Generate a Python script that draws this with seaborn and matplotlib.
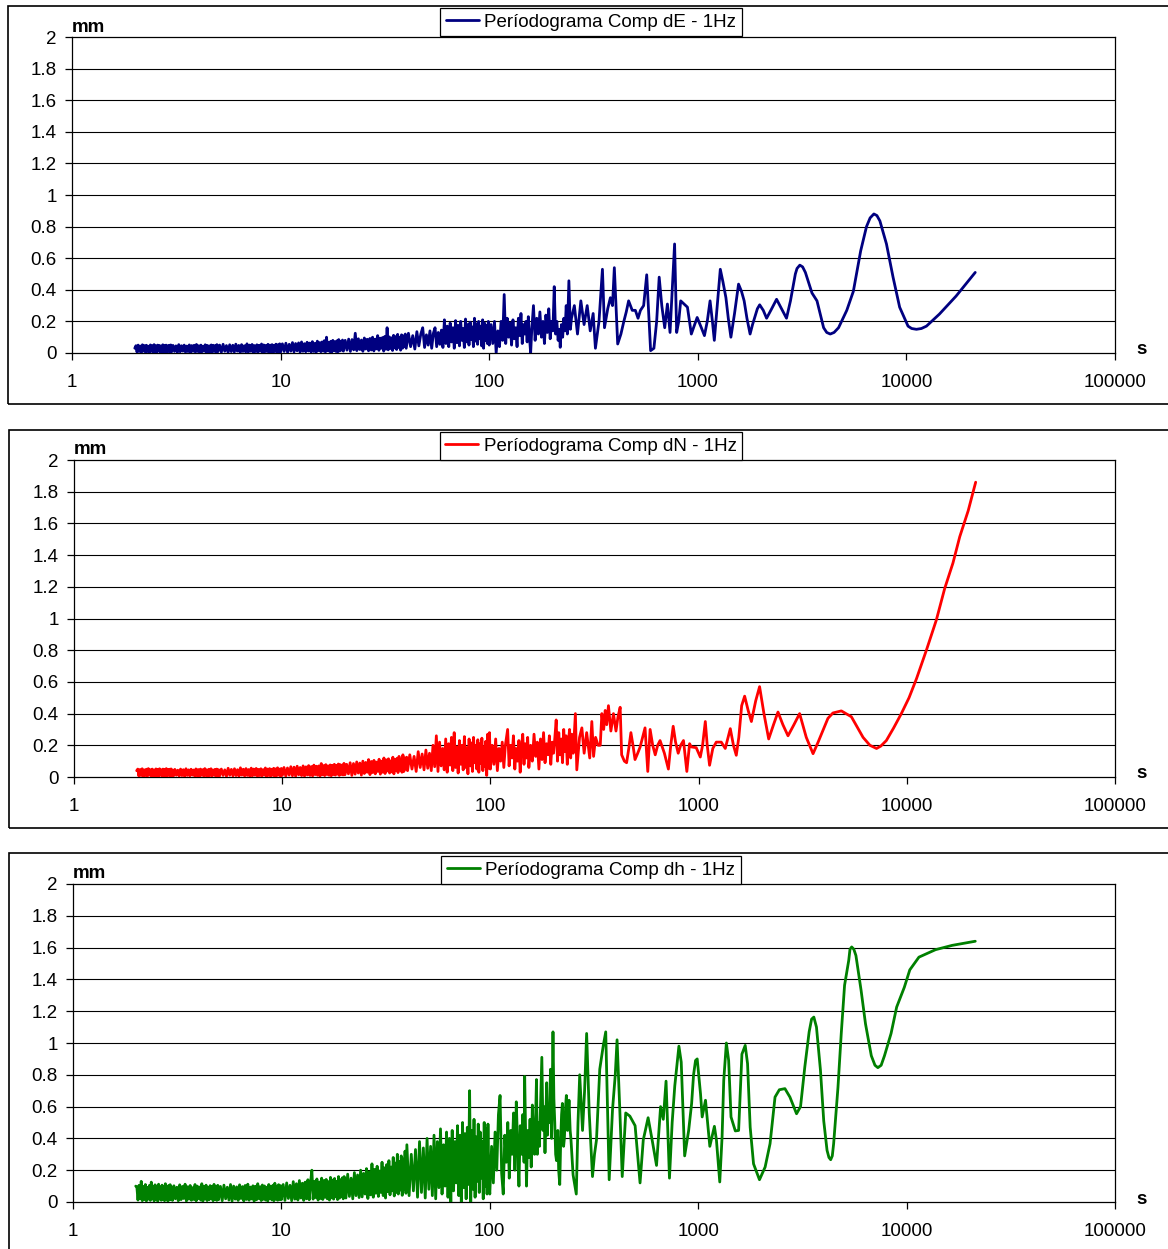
import matplotlib
matplotlib.use("Agg")
import matplotlib.pyplot as plt
from matplotlib.patches import Rectangle
from matplotlib.lines import Line2D
from matplotlib.ticker import NullLocator
import pandas as pd
import seaborn as sns

# ---------------- data ----------------
# periods (s) of the dense short-period part, shared by the three components
NOISE_PERIODS = [
    2.0, 2.025, 2.05, 2.075, 2.1, 2.125, 2.15, 2.175, 2.2, 2.225, 2.25, 2.275, 2.3, 2.325, 2.35, 2.375, 2.4, 2.425, 2.45, 2.475,
    2.5, 2.525, 2.55, 2.575, 2.6, 2.625, 2.65, 2.675, 2.7, 2.725, 2.75, 2.775, 2.8, 2.825, 2.85, 2.875, 2.9, 2.925, 2.95, 2.975,
    3.0, 3.05, 3.1, 3.15, 3.2, 3.25, 3.3, 3.35, 3.4, 3.45, 3.5, 3.55, 3.6, 3.65, 3.7, 3.75, 3.8, 3.85, 3.9, 3.95,
    4.0, 4.05, 4.1, 4.15, 4.2, 4.25, 4.3, 4.35, 4.4, 4.45, 4.5, 4.55, 4.6, 4.65, 4.7, 4.75, 4.8, 4.85, 4.9, 4.95,
    5.0, 5.1, 5.2, 5.3, 5.4, 5.5, 5.6, 5.7, 5.8, 5.9, 6.0, 6.1, 6.2, 6.3, 6.4, 6.5, 6.6, 6.7, 6.8, 6.9,
    7.0, 7.1, 7.2, 7.3, 7.4, 7.5, 7.6, 7.7, 7.8, 7.9, 8.0, 8.1, 8.2, 8.3, 8.4, 8.5, 8.6, 8.7, 8.8, 8.9,
    9.0, 9.1, 9.2, 9.3, 9.4, 9.5, 9.6, 9.7, 9.8, 9.9,
    10.0, 10.2, 10.4, 10.6, 10.8, 11.0, 11.2, 11.4, 11.6, 11.8, 12.0, 12.2, 12.4, 12.6, 12.8, 13.0, 13.2, 13.4, 13.6, 13.8,
    14.0, 14.2, 14.4, 14.6, 14.8, 15.0, 15.2, 15.4, 15.6, 15.8, 16.0, 16.2, 16.4, 16.6, 16.8, 17.0, 17.2, 17.4, 17.6, 17.8,
    18.0, 18.2, 18.4, 18.6, 18.8, 19.0, 19.2, 19.4, 19.6, 19.8,
    20.0, 20.4, 20.8, 21.2, 21.6, 22.0, 22.4, 22.8, 23.2, 23.6, 24.0, 24.4, 24.8, 25.2, 25.6, 26.0, 26.4, 26.8, 27.2, 27.6,
    28.0, 28.4, 28.8, 29.2, 29.6, 30.0, 30.4, 30.8, 31.2, 31.6, 32.0, 32.4, 32.8, 33.2, 33.6, 34.0, 34.4, 34.8, 35.2, 35.6,
    36.0, 36.4, 36.8, 37.2, 37.6, 38.0, 38.4, 38.8, 39.2, 39.6,
    40, 41, 42, 43, 44, 45, 46, 47, 48, 49, 50, 51, 52, 53, 54, 55, 56, 57, 58, 59,
    60, 61, 62, 63, 64, 65, 66, 67, 68, 69, 70, 71, 72, 73, 74, 75, 76, 77, 78, 79,
    80, 81, 82, 83, 84, 85, 86, 87, 88, 89, 90, 91, 92, 93, 94, 95, 96, 97, 98, 99,
]

DE_NOISE = [
    0.030, 0.046, 0.006, 0.050, 0.010, 0.044, 0.004, 0.052, 0.012, 0.047,
    0.005, 0.049, 0.009, 0.043, 0.003, 0.051, 0.011, 0.046, 0.006, 0.053,
    0.008, 0.045, 0.004, 0.050, 0.013, 0.048, 0.005, 0.044, 0.010, 0.052,
    0.003, 0.047, 0.009, 0.050, 0.006, 0.045, 0.012, 0.049, 0.004, 0.051,
    0.007, 0.048, 0.010, 0.045, 0.004, 0.053, 0.008, 0.046, 0.012, 0.050,
    0.005, 0.044, 0.009, 0.051, 0.003, 0.047, 0.011, 0.049, 0.006, 0.054,
    0.010, 0.046, 0.004, 0.050, 0.008, 0.043, 0.012, 0.052, 0.005, 0.048,
    0.009, 0.045, 0.003, 0.051, 0.007, 0.049, 0.011, 0.046, 0.006, 0.053,
    0.008, 0.050, 0.005, 0.055, 0.011, 0.047, 0.004, 0.052, 0.009, 0.049,
    0.006, 0.056, 0.012, 0.048, 0.003, 0.053, 0.010, 0.046, 0.007, 0.058,
    0.005, 0.050, 0.011, 0.054, 0.004, 0.047, 0.009, 0.052, 0.006, 0.049,
    0.012, 0.057, 0.003, 0.051, 0.008, 0.048, 0.010, 0.055, 0.005, 0.050,
    0.007, 0.053, 0.004, 0.049, 0.011, 0.056, 0.006, 0.052, 0.009, 0.058,
    0.006, 0.058, 0.010, 0.062, 0.004, 0.055, 0.012, 0.066, 0.007, 0.060,
    0.014, 0.064, 0.005, 0.070, 0.011, 0.059, 0.008, 0.068, 0.013, 0.063,
    0.006, 0.072, 0.010, 0.061, 0.004, 0.075, 0.015, 0.066, 0.008, 0.070,
    0.012, 0.078, 0.006, 0.100, 0.014, 0.068, 0.009, 0.074, 0.005, 0.080,
    0.016, 0.071, 0.010, 0.077, 0.007, 0.085, 0.013, 0.073, 0.018, 0.082,
    0.012, 0.080, 0.018, 0.088, 0.010, 0.085, 0.020, 0.125, 0.015, 0.090,
    0.022, 0.082, 0.011, 0.095, 0.025, 0.087, 0.014, 0.092, 0.019, 0.100,
    0.013, 0.088, 0.026, 0.110, 0.017, 0.094, 0.030, 0.098, 0.012, 0.105,
    0.024, 0.160, 0.020, 0.102, 0.028, 0.096, 0.016, 0.112, 0.032, 0.104,
    0.022, 0.118, 0.035, 0.100, 0.018, 0.115, 0.030, 0.108, 0.040, 0.120,
    0.030, 0.125, 0.040, 0.110, 0.025, 0.135, 0.045, 0.120, 0.160, 0.035,
    0.115, 0.050, 0.140, 0.030, 0.125, 0.160, 0.040, 0.130, 0.055, 0.145,
    0.035, 0.210, 0.060, 0.170, 0.040, 0.190, 0.070, 0.160, 0.030, 0.205,
    0.065, 0.175, 0.045, 0.200, 0.080, 0.155, 0.035, 0.215, 0.070, 0.180,
    0.050, 0.195, 0.085, 0.165, 0.040, 0.220, 0.075, 0.185, 0.055, 0.200,
    0.090, 0.170, 0.045, 0.210, 0.030, 0.190, 0.080, 0.175, 0.060, 0.200,
]

DN_NOISE = [
    0.040, 0.050, 0.006, 0.047, 0.010, 0.052, 0.004, 0.045, 0.009, 0.049,
    0.005, 0.053, 0.012, 0.046, 0.006, 0.050, 0.008, 0.044, 0.004, 0.051,
    0.010, 0.048, 0.005, 0.052, 0.011, 0.045, 0.007, 0.050, 0.003, 0.047,
    0.009, 0.053, 0.006, 0.046, 0.012, 0.049, 0.004, 0.051, 0.008, 0.044,
    0.005, 0.048, 0.011, 0.043, 0.006, 0.050, 0.009, 0.046, 0.004, 0.052,
    0.010, 0.045, 0.007, 0.049, 0.012, 0.044, 0.005, 0.051, 0.008, 0.047,
    0.003, 0.050, 0.011, 0.046, 0.006, 0.053, 0.009, 0.045, 0.004, 0.049,
    0.010, 0.052, 0.007, 0.044, 0.012, 0.048, 0.005, 0.050, 0.008, 0.046,
    0.006, 0.050, 0.010, 0.045, 0.004, 0.055, 0.011, 0.048, 0.007, 0.052,
    0.009, 0.046, 0.005, 0.058, 0.012, 0.049, 0.006, 0.053, 0.010, 0.047,
    0.004, 0.056, 0.008, 0.050, 0.011, 0.054, 0.005, 0.048, 0.009, 0.052,
    0.007, 0.046, 0.012, 0.057, 0.004, 0.050, 0.010, 0.053, 0.006, 0.049,
    0.011, 0.055, 0.005, 0.051, 0.008, 0.058, 0.012, 0.050, 0.006, 0.054,
    0.010, 0.060, 0.006, 0.057, 0.012, 0.065, 0.008, 0.062, 0.005, 0.068,
    0.014, 0.060, 0.009, 0.070, 0.006, 0.064, 0.013, 0.072, 0.010, 0.066,
    0.007, 0.075, 0.015, 0.068, 0.011, 0.070, 0.006, 0.085, 0.014, 0.072,
    0.009, 0.078, 0.016, 0.070, 0.011, 0.076, 0.008, 0.074, 0.015, 0.080,
    0.012, 0.073, 0.018, 0.082, 0.010, 0.078, 0.016, 0.075, 0.013, 0.086,
    0.014, 0.080, 0.020, 0.090, 0.010, 0.085, 0.018, 0.095, 0.025, 0.088,
    0.012, 0.100, 0.022, 0.092, 0.030, 0.110, 0.015, 0.098, 0.028, 0.105,
    0.020, 0.094, 0.035, 0.112, 0.018, 0.100, 0.030, 0.120, 0.022, 0.108,
    0.038, 0.115, 0.025, 0.102, 0.032, 0.125, 0.020, 0.110, 0.040, 0.118,
    0.028, 0.130, 0.045, 0.112, 0.030, 0.140, 0.035, 0.120, 0.050, 0.125,
    0.040, 0.140, 0.050, 0.130, 0.035, 0.160, 0.060, 0.145, 0.045, 0.170,
    0.055, 0.150, 0.040, 0.200, 0.065, 0.260, 0.035, 0.220, 0.070, 0.180,
    0.045, 0.240, 0.030, 0.210, 0.075, 0.250, 0.040, 0.280, 0.060, 0.190,
    0.025, 0.230, 0.080, 0.200, 0.045, 0.255, 0.060, 0.185, 0.020, 0.240,
    0.070, 0.215, 0.035, 0.250, 0.090, 0.200, 0.050, 0.235, 0.030, 0.210,
    0.085, 0.245, 0.040, 0.190, 0.065, 0.225, 0.010, 0.270, 0.055, 0.280,
]

DH_NOISE = [
    0.100, 0.095, 0.012, 0.105, 0.020, 0.130, 0.008, 0.098, 0.015, 0.110,
    0.006, 0.092, 0.018, 0.104, 0.010, 0.125, 0.022, 0.096, 0.007, 0.108,
    0.014, 0.100, 0.005, 0.112, 0.019, 0.094, 0.011, 0.106, 0.016, 0.099,
    0.008, 0.115, 0.021, 0.097, 0.006, 0.103, 0.013, 0.109, 0.017, 0.095,
    0.010, 0.102, 0.020, 0.093, 0.008, 0.108, 0.015, 0.098, 0.022, 0.112,
    0.006, 0.096, 0.018, 0.104, 0.011, 0.090, 0.016, 0.110, 0.007, 0.100,
    0.021, 0.094, 0.012, 0.115, 0.005, 0.099, 0.019, 0.106, 0.009, 0.092,
    0.014, 0.103, 0.023, 0.097, 0.008, 0.111, 0.017, 0.095, 0.010, 0.105,
    0.015, 0.098, 0.008, 0.106, 0.020, 0.093, 0.012, 0.110, 0.006, 0.100,
    0.018, 0.095, 0.010, 0.108, 0.022, 0.097, 0.007, 0.104, 0.016, 0.112,
    0.011, 0.094, 0.019, 0.102, 0.005, 0.099, 0.014, 0.115, 0.021, 0.096,
    0.009, 0.107, 0.017, 0.101, 0.012, 0.093, 0.006, 0.110, 0.020, 0.098,
    0.013, 0.105, 0.008, 0.118, 0.018, 0.100, 0.011, 0.109, 0.015, 0.103,
    0.015, 0.110, 0.010, 0.120, 0.022, 0.105, 0.008, 0.128, 0.018, 0.115,
    0.012, 0.135, 0.025, 0.118, 0.010, 0.125, 0.020, 0.140, 0.014, 0.122,
    0.200, 0.018, 0.130, 0.028, 0.145, 0.012, 0.126, 0.022, 0.150, 0.016,
    0.135, 0.030, 0.142, 0.020, 0.128, 0.012, 0.155, 0.026, 0.138, 0.018,
    0.148, 0.032, 0.130, 0.015, 0.160, 0.024, 0.140, 0.035, 0.152, 0.020,
    0.160, 0.025, 0.175, 0.035, 0.150, 0.020, 0.185, 0.040, 0.170, 0.028,
    0.200, 0.032, 0.180, 0.050, 0.210, 0.022, 0.190, 0.045, 0.240, 0.030,
    0.205, 0.055, 0.225, 0.035, 0.195, 0.060, 0.250, 0.040, 0.215, 0.025,
    0.235, 0.065, 0.260, 0.045, 0.220, 0.070, 0.280, 0.038, 0.245, 0.060,
    0.300, 0.050, 0.255, 0.075, 0.290, 0.042, 0.270, 0.080, 0.320, 0.055,
    0.360, 0.040, 0.300, 0.070, 0.330, 0.030, 0.380, 0.060, 0.340, 0.025,
    0.400, 0.080, 0.350, 0.040, 0.420, 0.020, 0.380, 0.090, 0.460, 0.050,
    0.360, 0.100, 0.440, 0.030, 0.400, 0.000, 0.450, 0.070, 0.380, 0.120,
    0.480, 0.040, 0.420, 0.000, 0.500, 0.090, 0.430, 0.020, 0.470, 0.110,
    0.700, 0.000, 0.450, 0.080, 0.520, 0.030, 0.410, 0.130, 0.490, 0.060,
    0.440, 0.150, 0.380, 0.020, 0.500, 0.100, 0.460, 0.050, 0.490, 0.120,
]

# (period s, amplitude mm) for the longer periods
DE_TAIL = [
    (100, 0.05), (102, 0.18), (104, 0.06), (106, 0.2), (108, 0.0), (110, 0.14), (112, 0.04), (114, 0.2),
    (116, 0.08), (118, 0.37), (120, 0.06), (122, 0.22), (124, 0.1), (126, 0.19), (128, 0.05), (130, 0.21),
    (132, 0.09), (134, 0.16), (136, 0.04), (138, 0.22), (140, 0.11), (142, 0.25), (144, 0.06), (146, 0.18),
    (148, 0.12), (150, 0.2), (152, 0.07), (154, 0.23), (156, 0.1), (158, 0.0), (160, 0.15), (163, 0.30),
    (166, 0.08), (169, 0.22), (172, 0.12), (175, 0.26), (178, 0.1), (181, 0.2), (184, 0.06), (187, 0.24),
    (190, 0.13), (193, 0.28), (196, 0.09), (199, 0.2), (202, 0.14), (205, 0.42), (208, 0.12), (211, 0.2),
    (214, 0.08), (217, 0.15), (219, 0.036), (222, 0.18), (225, 0.1), (228, 0.22), (231, 0.14), (234, 0.3),
    (237, 0.12), (241, 0.457), (245, 0.15), (248, 0.22),
    (256, 0.3), (265, 0.12),
    (275, 0.33), (285, 0.18), (295, 0.3), (305, 0.14), (315, 0.25), (323, 0.03), (336, 0.2), (349, 0.53),
    (357, 0.16), (370, 0.28), (381, 0.35), (390, 0.3), (398, 0.54), (413, 0.057), (428, 0.12), (442, 0.2),
    (454, 0.26), (466, 0.33), (485, 0.27), (502, 0.27), (517, 0.22), (531, 0.27), (550, 0.3), (569, 0.495),
    (594, 0.015), (616, 0.03), (635, 0.2), (653, 0.48), (672, 0.3), (694, 0.16), (715, 0.31), (736, 0.13),
    (774, 0.69), (792, 0.13), (810, 0.2), (828, 0.33), (860, 0.31), (892, 0.29), (931, 0.12), (960, 0.17),
    (993, 0.225), (1040, 0.16), (1076, 0.11), (1110, 0.2), (1145, 0.33), (1175, 0.2), (1200, 0.08), (1240, 0.3),
    (1282, 0.53), (1320, 0.45), (1364, 0.35), (1400, 0.22), (1441, 0.10), (1500, 0.25), (1568, 0.436), (1620, 0.39),
    (1668, 0.33), (1720, 0.22), (1781, 0.12), (1830, 0.18), (1875, 0.225), (1930, 0.28), (1980, 0.305), (2060, 0.27),
    (2137, 0.22), (2260, 0.28), (2386, 0.34), (2520, 0.28), (2662, 0.22), (2781, 0.33), (2935, 0.50), (2990, 0.535),
    (3084, 0.556), (3180, 0.545), (3279, 0.51), (3526, 0.38), (3727, 0.33), (4010, 0.16), (4150, 0.13), (4315, 0.12),
    (4500, 0.13), (4729, 0.16), (5178, 0.27), (5567, 0.39), (6036, 0.646), (6438, 0.80), (6700, 0.855), (6984, 0.88),
    (7220, 0.87), (7463, 0.836), (8025, 0.69), (8630, 0.48), (9281, 0.29), (10182, 0.17), (10600, 0.155), (11170, 0.15),
    (11800, 0.155), (12480, 0.17), (14390, 0.246), (17300, 0.36), (21380, 0.51),
]

DN_TAIL = [
    (100, 0.05), (102, 0.2), (104, 0.08), (106, 0.24), (108, 0.04), (110, 0.18), (112, 0.1), (114, 0.22),
    (116, 0.06), (118, 0.2), (121, 0.30), (123, 0.07), (125, 0.2), (127, 0.12), (129, 0.26), (131, 0.05),
    (133, 0.18), (135, 0.1), (137, 0.23), (139, 0.03), (141, 0.19), (143, 0.27), (145, 0.08), (147, 0.21),
    (149, 0.12), (151, 0.25), (153, 0.06), (156, 0.2), (159, 0.1), (162, 0.27), (165, 0.13), (168, 0.22),
    (171, 0.05), (174, 0.24), (177, 0.11), (180, 0.28), (183, 0.09), (186, 0.21), (189, 0.14), (192, 0.26),
    (195, 0.08), (198, 0.22), (201, 0.15), (204, 0.25), (207, 0.36), (210, 0.1), (213, 0.28), (216, 0.14),
    (219, 0.24), (222, 0.09), (225, 0.3), (228, 0.16), (231, 0.26), (234, 0.08), (237, 0.22), (240, 0.3),
    (243, 0.12), (246, 0.27), (250, 0.15),
    (256, 0.40), (260, 0.045), (268, 0.25), (275, 0.31), (282, 0.15), (290, 0.28), (300, 0.12), (307, 0.35),
    (313, 0.13), (320, 0.25), (329, 0.2), (337, 0.2), (343, 0.40), (350, 0.3), (356, 0.42), (362, 0.33),
    (369, 0.45), (379, 0.29), (390, 0.40), (401, 0.29), (410, 0.38), (420, 0.44), (427, 0.14), (440, 0.1),
    (451, 0.09), (462, 0.18), (473, 0.28), (484, 0.2), (495, 0.11), (510, 0.15), (524, 0.19), (538, 0.25),
    (553, 0.31), (570, 0.035), (585, 0.30), (602, 0.2), (619, 0.14), (636, 0.2), (653, 0.23), (685, 0.15),
    (716, 0.05), (735, 0.2), (755, 0.32), (775, 0.22), (798, 0.15), (820, 0.2), (846, 0.23), (878, 0.035),
    (905, 0.21), (922, 0.19), (974, 0.185), (1019, 0.126), (1045, 0.2), (1077, 0.35), (1100, 0.2), (1129, 0.074),
    (1170, 0.18), (1216, 0.22), (1285, 0.22), (1343, 0.18), (1420, 0.305), (1470, 0.2), (1517, 0.137), (1560, 0.25),
    (1610, 0.45), (1664, 0.51), (1730, 0.42), (1793, 0.35), (1880, 0.48), (1963, 0.57), (2060, 0.4), (2171, 0.24),
    (2290, 0.33), (2406, 0.41), (2540, 0.33), (2688, 0.26), (2870, 0.33), (3056, 0.40), (3290, 0.25), (3546, 0.147),
    (3750, 0.22), (3959, 0.295), (4180, 0.37), (4418, 0.404), (4849, 0.417), (5418, 0.38), (6165, 0.25), (6650, 0.2),
    (6900, 0.19), (7155, 0.18), (7500, 0.195), (7975, 0.23), (8650, 0.31), (9414, 0.40), (10250, 0.5), (11130, 0.62),
    (12420, 0.80), (13860, 0.99), (15210, 1.19), (16660, 1.35), (17960, 1.516), (19720, 1.68), (21420, 1.86),
]

DH_TAIL = [
    (100, 0.05), (102, 0.35), (104, 0.12), (106, 0.44), (108, 0.2), (110, 0.55), (112, 0.67), (114, 0.18),
    (116, 0.05), (118, 0.42), (120, 0.25), (122, 0.5), (124, 0.15), (126, 0.45), (128, 0.3), (130, 0.56),
    (132, 0.2), (134, 0.63), (136, 0.35), (138, 0.1), (140, 0.48), (142, 0.3), (144, 0.55), (146, 0.25),
    (147, 0.79), (149, 0.35), (150, 0.1), (152, 0.45), (154, 0.28), (156, 0.52), (158, 0.22), (160, 0.61),
    (162, 0.4), (164, 0.3), (166, 0.55), (167.5, 0.77), (169, 0.3), (171, 0.5), (173, 0.35), (175, 0.6),
    (177.7, 0.91), (180, 0.45), (182, 0.6), (184, 0.31), (186, 0.55), (187.5, 0.75), (189, 0.42), (191, 0.6),
    (193, 0.5), (195.6, 0.835), (198, 0.4), (201, 1.07), (203, 0.65), (205, 0.5), (207, 0.3), (209, 0.26),
    (212, 0.45), (214, 0.2), (216.6, 0.11), (219, 0.4), (221, 0.55), (223, 0.62), (226, 0.35), (228, 0.4),
    (231, 0.6), (233, 0.67), (236, 0.45), (238, 0.55), (240, 0.64), (243, 0.45), (245, 0.4),
    (251, 0.17), (260, 0.05), (265, 0.5), (270, 0.80), (278.6, 0.45), (285, 0.7), (291.5, 1.06), (300, 0.56),
    (311, 0.16), (318, 0.3), (325, 0.39), (337, 0.835), (350, 0.98), (360, 1.07), (374, 0.14), (388, 0.58),
    (400, 0.8), (408, 1.02), (420, 0.60), (432, 0.16), (449, 0.56), (470, 0.54), (498, 0.48), (526, 0.12),
    (545, 0.39), (575, 0.53), (603, 0.38), (631, 0.23), (660, 0.60), (680, 0.52), (701, 0.76), (728, 0.15),
    (750, 0.5), (772, 0.73), (808, 0.98), (829, 0.88), (861, 0.29), (900, 0.45), (930, 0.62), (950, 0.8),
    (971, 0.89), (989, 0.90), (1026, 0.68), (1045, 0.535), (1084, 0.64), (1137, 0.35), (1196, 0.476), (1223, 0.39),
    (1269, 0.126), (1302, 0.41), (1326, 0.765), (1365, 1.0), (1400, 0.89), (1437, 0.535), (1507, 0.447), (1563, 0.45),
    (1621, 0.93), (1681, 0.985), (1725, 0.87), (1776, 0.47), (1843, 0.24), (1968, 0.14), (2095, 0.22), (2212, 0.367),
    (2337, 0.66), (2451, 0.706), (2607, 0.713), (2755, 0.66), (2964, 0.555), (3098, 0.60), (3248, 0.85), (3407, 1.07),
    (3500, 1.15), (3588, 1.163), (3694, 1.10), (3860, 0.83), (4003, 0.51), (4152, 0.325), (4240, 0.28), (4322, 0.266),
    (4400, 0.29), (4466, 0.367), (4684, 0.72), (4858, 1.06), (5039, 1.363), (5277, 1.52), (5350, 1.59), (5452, 1.604),
    (5580, 1.59), (5713, 1.55), (6050, 1.33), (6351, 1.12), (6771, 0.92), (7050, 0.86), (7280, 0.845), (7550, 0.86),
    (7832, 0.92), (8423, 1.06), (8960, 1.226), (9749, 1.35), (10360, 1.46), (11460, 1.54), (13770, 1.587), (16540, 1.614),
    (21360, 1.64),
]

SERIES_LABELS = ["Períodograma Comp dE - 1Hz", "Períodograma Comp dN - 1Hz", "Períodograma Comp dh - 1Hz"]
SERIES_COLORS = ["#000080", "#FF0000", "#008000"]
X_TICKS = [1, 10, 100, 1000, 10000, 100000]
X_TICK_LABELS = ["1", "10", "100", "1000", "10000", "100000"]
Y_TICKS = [0, 0.2, 0.4, 0.6, 0.8, 1.0, 1.2, 1.4, 1.6, 1.8, 2.0]
Y_TICK_LABELS = ["0", "0.2", "0.4", "0.6", "0.8", "1", "1.2", "1.4", "1.6", "1.8", "2"]
Y_UNIT = "mm"
X_UNIT = "s"

# ---------------- layout (pixels) ----------------
W, H = 1168, 1249
AREAS = [(72, 1115, 37, 353), (74, 1115, 460, 777), (73, 1115, 884, 1202)]  # l, r, t, b
FRAMES = [(8, 6, 404), (9, 430, 828), (9, 853, 1262)]  # l, t, b
LEGEND_TOP = [8, 432, 856]
LEGEND_CX = 591

sns.set_theme(style="white")
plt.rcParams["font.family"] = ["Liberation Sans", "DejaVu Sans"]
plt.rcParams["text.color"] = "black"

fig = plt.figure(figsize=(W / 100, H / 100), dpi=100)
fig.patch.set_facecolor("white")

FS = 13.5
noise_sets = [DE_NOISE, DN_NOISE, DH_NOISE]
tails = [DE_TAIL, DN_TAIL, DH_TAIL]

for i in range(3):
    l, r, t, b = AREAS[i]
    ax = fig.add_axes([l / W, 1 - b / H, (r - l) / W, (b - t) / H])
    pairs = list(zip(NOISE_PERIODS, noise_sets[i])) + list(tails[i])
    df = pd.DataFrame(pairs, columns=["period", "value"])
    ax.set_xscale("log")
    sns.lineplot(data=df, x="period", y="value", ax=ax, color=SERIES_COLORS[i],
                 linewidth=2.0, estimator=None, sort=False, legend=False, zorder=3)
    ax.set_xlim(1, 100000)
    ax.set_ylim(0, 2)
    ax.set_xticks(X_TICKS)
    ax.set_xticklabels(X_TICK_LABELS)
    ax.xaxis.set_minor_locator(NullLocator())
    ax.set_yticks(Y_TICKS)
    ax.set_yticklabels(Y_TICK_LABELS)
    ax.set_xlabel("")
    ax.set_ylabel("")
    ax.grid(False)
    for y in Y_TICKS[1:-1]:
        ax.axhline(y, color="black", lw=0.8, zorder=1)
    for s in ax.spines.values():
        s.set_visible(True)
        s.set_color("black")
        s.set_linewidth(0.9)
    ax.tick_params(axis="both", direction="out", length=5, width=0.9, color="black",
                   labelsize=FS, labelcolor="black", bottom=True, left=True)
    ax.tick_params(axis="x", pad=10)
    ax.tick_params(axis="y", pad=6)
    ax.set_facecolor("white")

    fl, ft, fb = FRAMES[i]
    fig.patches.append(Rectangle((fl / W, 1 - fb / H), (W + 20 - fl) / W, (fb - ft) / H,
                                 transform=fig.transFigure, fill=False,
                                 edgecolor="black", linewidth=1.2, zorder=0))
    fig.text(l / W, 1 - (t - 10) / H, Y_UNIT, fontsize=FS, fontweight="bold",
             ha="left", va="center", color="black")
    fig.text(1142 / W, 1 - (b - 3) / H, X_UNIT, fontsize=FS, fontweight="bold",
             ha="center", va="center", color="black")
    handle = Line2D([0], [0], color=SERIES_COLORS[i], lw=2.0)
    leg = fig.legend([handle], [SERIES_LABELS[i]], loc="upper center",
                     bbox_to_anchor=(LEGEND_CX / W, 1 - LEGEND_TOP[i] / H),
                     frameon=True, fancybox=False, shadow=False, framealpha=1,
                     edgecolor="black", fontsize=FS, handlelength=1.75,
                     handletextpad=0.3, borderpad=0.3, borderaxespad=0)
    leg.get_frame().set_linewidth(0.9)
    for txt in leg.get_texts():
        txt.set_color("black")

fig.savefig("out.png", dpi=100, facecolor="white")
